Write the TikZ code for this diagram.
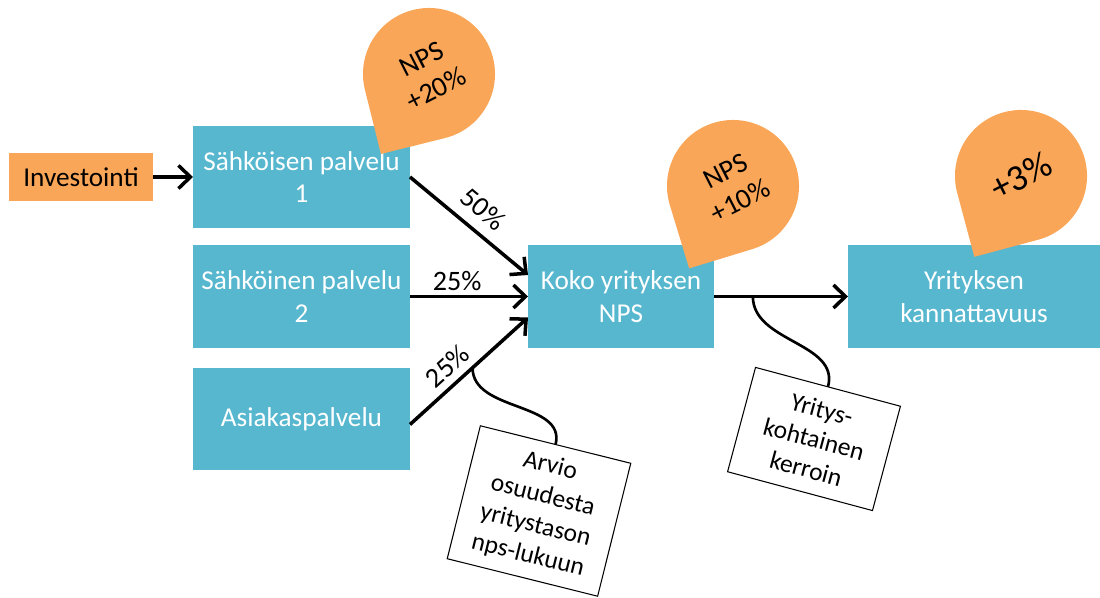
\documentclass[tikz,border=0pt]{standalone}
\usepackage{fontspec}
\setmainfont{Carlito}
\usepackage{tikz}
\usetikzlibrary{arrows.meta, calc}
\usetikzlibrary{shapes.misc, positioning}
\definecolor{tealbox}{RGB}{86,183,207}
\definecolor{dropor}{RGB}{250,166,88}
\def\boxcol{tealbox}
\def\orcol{dropor}
\tikzstyle{service} = [rectangle, minimum width=4.34cm, minimum height=2.05cm, inner sep=0, outer sep=0, fill=\boxcol, text=white, align=center, font=\fontsize{15.5}{18.5}\selectfont]
\tikzstyle{start} = [rectangle, minimum width=2.88cm, minimum height=0.96cm, inner sep=0, outer sep=0, fill=\orcol, text=black, font=\fontsize{15.5}{18.5}\selectfont]
\tikzstyle{note} = [rectangle, draw=black, line width=0.6pt, fill=white, inner sep=0, outer sep=0, align=center, font=\fontsize{14.5}{17.5}\selectfont]
\tikzstyle{droptext} = [rotate=27, align=center, inner sep=0, font=\fontsize{16}{19}\selectfont]
\tikzstyle{aro} = [-{Straight Barb[length=2.4mm,width=4.6mm]}, line width=2pt]
\tikzstyle{wire} = [line width=1.5pt]
\tikzstyle{pct} = [font=\fontsize{16}{18}\selectfont, inner sep=4pt]
% #1 name, #2 centre, #3 angle of the tip, #4 text
\newcommand{\npsdrop}[4]{%
  \coordinate (#1) at #2;
  \fill[\orcol] (#1) ++({#3+45}:1.32) arc[start angle={#3+45}, end angle={#3+315}, radius=1.32]
    -- ($(#1)+(#3:1.867)$) -- cycle;
  \node[droptext] (#1txt) at (#1) {#4};
}

\begin{document}
\begin{tikzpicture}[thick]
  \useasboundingbox (0,0) rectangle (22,11.96);

  \node (s1) [service] at (6.03,8.42) {Sähköisen palvelu\\1};
  \node (s2) [service, below=0.34cm of s1] {Sähköinen palvelu\\2};
  \node (s3) [service, below=0.4cm of s2] {Asiakaspalvelu};
  \node (inv) [start, left=0.8cm of s1] {Investointi};
  \node (koko) [service, minimum width=3.72cm, right=2.36cm of s2] {Koko yrityksen\\NPS};
  \node (yrit) [service, minimum width=5.04cm, right=2.68cm of koko] {Yrityksen\\kannattavuus};

  \draw [aro] (inv) -- (s1);
  \draw [aro] (s1.east) -- node[pct, sloped, above, pos=0.5, inner sep=6pt] (p1) {50\%} ([yshift=0.43cm]koko.west);
  \draw [aro] (s2.east) -- node[pct, above, pos=0.4, inner sep=2pt] (p2) {25\%} (koko.west);
  \draw [aro] ([yshift=-0.11cm]s3.east) -- node[pct, sloped, above, pos=0.42] (p3) {25\%}
    coordinate[pos=0.53] (a3) ([yshift=-0.42cm]koko.west);
  \draw [aro] (koko.east) -- coordinate[pos=0.29] (k1) (yrit.west);

  \npsdrop{d1}{(8.58,10.48)}{239}{NPS\\+20\%}
  \npsdrop{d2}{(14.66,8.24)}{242}{NPS\\+10\%}
  \npsdrop{d3}{(20.42,8.44)}{240}{\fontsize{21}{24}\selectfont +3\%}

  \node (arvio) [note, rotate=-14, minimum width=3.1cm, minimum height=2.74cm] at (10.78,1.74)
    {Arvio\\osuudesta\\yritystason\\nps-lukuun};
  \node (kerroin) [note, rotate=-15, minimum width=3.0cm, minimum height=2.16cm] at (16.28,3.18)
    {Yritys-\\kohtainen\\kerroin};

  \draw [wire] (a3) to[out=-90, in=76] (arvio.north);
  \draw [wire] (k1) to[out=-90, in=75] (kerroin.north);

\end{tikzpicture}
\end{document}
